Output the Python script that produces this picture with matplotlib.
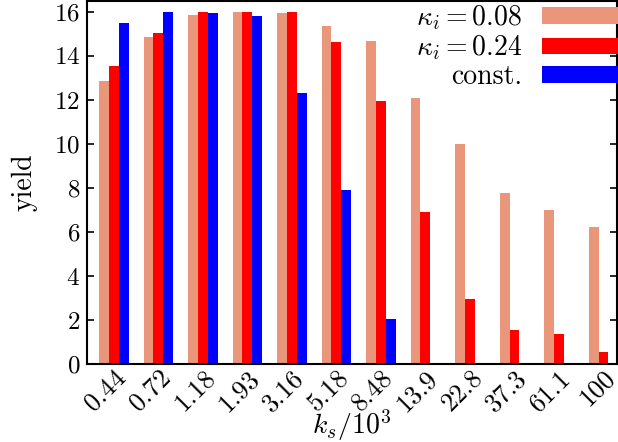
import numpy as np
import matplotlib
matplotlib.use('Agg')
import matplotlib.pyplot as plt

# LaTeX-like look
plt.rcParams['font.family'] = 'serif'
plt.rcParams['font.serif'] = ['cmr10']
plt.rcParams['mathtext.fontset'] = 'cm'
plt.rcParams['axes.formatter.use_mathtext'] = True
plt.rcParams['font.size'] = 18

# Data
ks_labels = ['0.44', '0.72', '1.18', '1.93', '3.16', '5.18', '8.48',
             '13.9', '22.8', '37.3', '61.1', '100']
yield_k008 = [12.86, 14.86, 15.86, 16.0, 15.95, 15.36, 14.68, 12.09, 10.0, 7.77, 7.0, 6.23]
yield_k024 = [13.55, 15.05, 16.0, 16.0, 16.0, 14.64, 11.95, 6.9, 2.95, 1.55, 1.36, 0.55]
yield_const = [15.5, 16.0, 15.95, 15.82, 12.32, 7.9, 2.05, 0, 0, 0, 0, 0]

x = np.arange(len(ks_labels))
w = 0.22

fig = plt.figure(figsize=(6.18, 4.42), dpi=100)
ax = fig.add_axes([0.141, 0.176, 0.857, 0.822])
ax.bar(x - w, yield_k008, w, color='#e9967a', label=r'$\kappa_i = 0.08$')
ax.bar(x, yield_k024, w, color='red', label=r'$\kappa_i = 0.24$')
ax.bar(x + w, yield_const, w, color='blue', label='const.')

ax.set_xlim(-0.6, 11.3)
ax.set_ylim(0, 16.5)
ax.set_yticks(np.arange(0, 17, 2))
ax.set_xticks(x)
ax.set_xticklabels(ks_labels, rotation=45, ha='right', rotation_mode='anchor')
ax.tick_params(axis='x', length=0, pad=1, labelsize=19)
ax.tick_params(axis='y', direction='in', left=True, right=True, length=5,
               width=1.2, pad=5, labelsize=18)
for s in ax.spines.values():
    s.set_linewidth(1.5)

ax.set_xlabel(r'$k_s/10^3$', fontsize=20)
ax.xaxis.set_label_coords(0.5, -0.118)
ax.set_ylabel('yield', labelpad=12, fontsize=20)

ax.legend(loc='upper right', bbox_to_anchor=(1.008, 1.0), frameon=False,
          markerfirst=False, handlelength=2.75, handleheight=0.55,
          borderaxespad=0.0, labelspacing=0.05, fontsize=20, borderpad=0.1,
          handletextpad=0.7)

fig.savefig('out.png', dpi=100)
